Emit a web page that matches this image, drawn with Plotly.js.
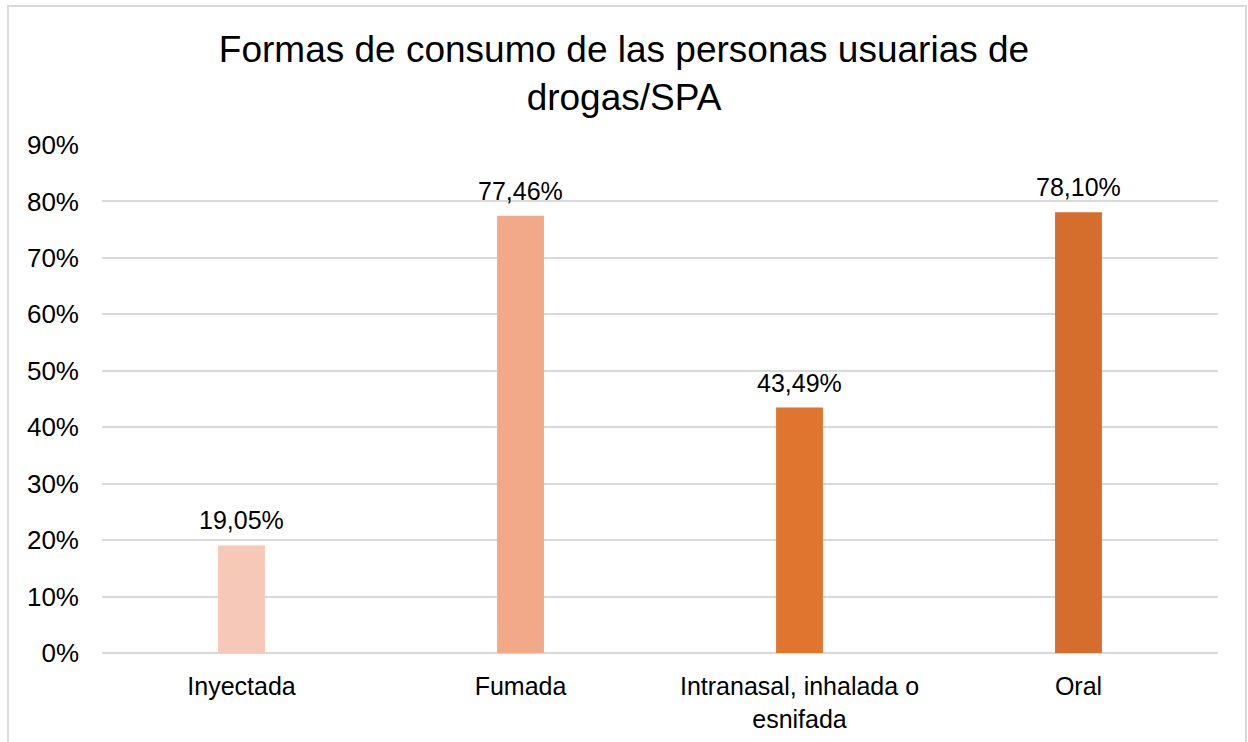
<!DOCTYPE html>
<html>
<head>
<meta charset="utf-8">
<script src="https://cdn.plot.ly/plotly-3.0.1.min.js"></script>
<style>html,body{margin:0;padding:0;background:#fff;}#chart{width:1248px;height:742px;}</style>
</head>
<body>
<div id="chart"></div>
<script>
const categories = ["Inyectada", "Fumada", "Intranasal, inhalada o<br>esnifada", "Oral"];
const values = [19.05, 77.46, 43.49, 78.10];
const valueLabels = ["19,05%", "77,46%", "43,49%", "78,10%"];
const barColors = ["#F5C8B8", "#F2A98A", "#E07530", "#D56E2C"];
const yTickValues = [0, 10, 20, 30, 40, 50, 60, 70, 80, 90];
const yTickLabels = ["0%", "10%", "20%", "30%", "40%", "50%", "60%", "70%", "80%", "90%"];

const W = 1248, H = 742;
const m = {l: 102, r: 30, t: 145, b: 89};
const pw = W - m.l - m.r, ph = H - m.t - m.b;
const px2x = px => (px - m.l) / pw;
const py2y = py => (H - m.b - py) / ph;

const font = "Liberation Sans, Arial, sans-serif";

const trace = {
  type: "bar",
  x: categories,
  y: values,
  marker: {color: barColors, line: {width: 0}},
  width: 0.168,
  hoverinfo: "skip"
};

const labelAnnotations = categories.map((c, i) => ({
  x: c, y: values[i], xref: "x", yref: "y",
  text: valueLabels[i], showarrow: false,
  xanchor: "center", yanchor: "bottom", yshift: 9,
  font: {family: font, size: 25, color: "#000000"}
}));

const layout = {
  width: W, height: H,
  margin: m,
  paper_bgcolor: "#ffffff",
  plot_bgcolor: "#ffffff",
  showlegend: false,
  font: {family: font, color: "#000000"},
  title: {
    text: "Formas de consumo de las personas usuarias de<br>drogas/SPA",
    font: {family: font, size: 37, color: "#000000"},
    x: 0.5, xref: "container", xanchor: "center",
    y: 1 - 62 / H, yref: "container", yanchor: "top"
  },
  xaxis: {
    type: "category",
    range: [-0.5, 3.5],
    showgrid: false, zeroline: false, showline: false,
    ticks: "",
    ticklabelstandoff: 16,
    tickfont: {family: font, size: 25, color: "#000000"}
  },
  yaxis: {
    range: [0, 90],
    tickvals: yTickValues,
    ticktext: yTickLabels,
    showgrid: true, gridcolor: "#D9D9D9", gridwidth: 2,
    zeroline: true, zerolinecolor: "#D9D9D9", zerolinewidth: 2,
    showline: false, ticks: "",
    ticklabelstandoff: 22,
    tickfont: {family: font, size: 26, color: "#000000"}
  },
  annotations: labelAnnotations,
  shapes: [{
    type: "rect", xref: "paper", yref: "paper",
    x0: px2x(8), x1: px2x(1246), y0: py2y(760), y1: py2y(6),
    line: {color: "#D9D9D9", width: 2}, fillcolor: "rgba(0,0,0,0)", layer: "below"
  }]
};

Plotly.newPlot("chart", [trace], layout, {staticPlot: true, displayModeBar: false});
</script>
</body>
</html>
